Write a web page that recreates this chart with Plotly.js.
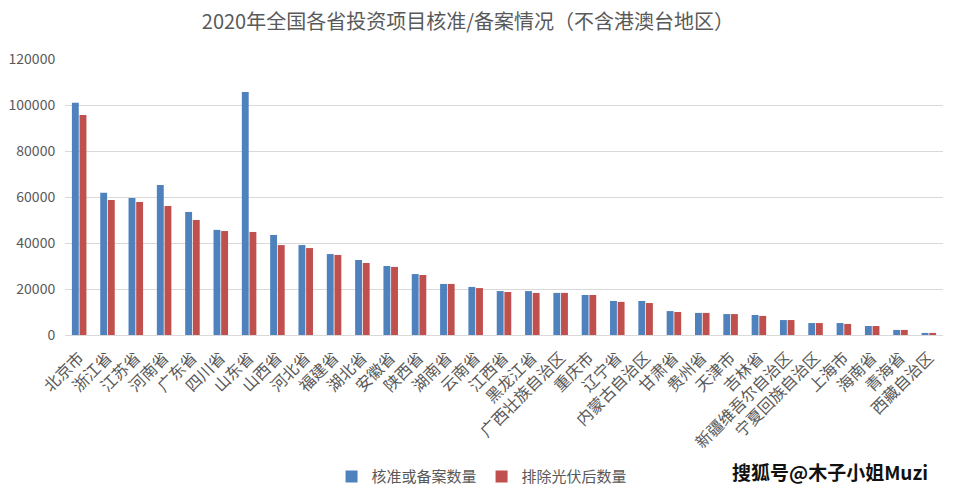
<!DOCTYPE html>
<html>
<head>
<meta charset="utf-8">
<script src="https://cdn.plot.ly/plotly-3.0.1.min.js"></script>
<style>
  body { margin: 0; background: #fff; }
  #chart { width: 955px; height: 495px; }
</style>
</head>
<body>
<div id="chart"></div>
<script>
var provinces = ['北京市', '浙江省', '江苏省', '河南省', '广东省', '四川省', '山东省', '山西省', '河北省',
	'福建省', '湖北省', '安徽省', '陕西省', '湖南省', '云南省', '江西省', '黑龙江省', '广西壮族自治区',
	'重庆市', '辽宁省', '内蒙古自治区', '甘肃省', '贵州省', '天津市', '吉林省', '新疆维吾尔自治区',
	'宁夏回族自治区', '上海市', '海南省', '青海省', '西藏自治区'];

var approved = [101000, 61800, 59600, 65200, 53500, 45700, 105700, 43500, 39100,
	35200, 32600, 30000, 26500, 22200, 20900, 19100, 19100, 18300,
	17400, 14800, 14800, 10400, 9600, 9100, 8700, 6500,
	5200, 5200, 3900, 2200, 900];

var excl_pv = [95700, 58700, 57800, 56100, 50000, 45200, 44800, 39100, 37800,
	34800, 31300, 29600, 26100, 22200, 20400, 18700, 18300, 18300,
	17400, 14400, 13900, 10000, 9600, 9100, 8300, 6500,
	5200, 4800, 3900, 2200, 900];

var approved_trace = {
	type: 'bar',
	x: provinces,
	y: approved,
	name: '核准或备案数量',
	marker: {color: '#4f81bd'}
};

var pv_trace = {
	type: 'bar',
	x: provinces,
	y: excl_pv,
	name: '排除光伏后数量',
	marker: {color: '#c0504d'}
};

var layout = {
	width: 955,
	height: 495,
	font: {family: '"Noto Sans CJK SC", "Liberation Sans", sans-serif', color: '#595959'},
	title: {
		text: '2020年全国各省投资项目核准/备案情况（不含港澳台地区）',
		font: {size: 20, color: '#595959'},
		x: 0.49, xanchor: 'center', y: 0.97
	},
	barmode: 'group',
	bargap: 0.46,
	bargroupgap: 0.1,
	showlegend: true,
	legend: {
		orientation: 'h',
		x: 0.475, xanchor: 'center',
		yref: 'container',
		y: 0.07, yanchor: 'top',
		font: {size: 15, color: '#595959'},
		itemwidth: 30,
		tracegroupgap: 0
	},
	xaxis: {
		tickangle: -45,
		tickfont: {size: 16, color: '#595959'},
		showline: true,
		linecolor: '#d9d9d9',
		ticks: '',
		ticklabelstandoff: 6,
		automargin: false
	},
	yaxis: {
		range: [0, 120000],
		dtick: 20000,
		tickformat: 'd',
		gridcolor: '#d9d9d9',
		zeroline: false,
		tickfont: {size: 14, color: '#595959'},
		ticklen: 6,
		ticks: 'outside',
		tickcolor: 'rgba(0,0,0,0)',
		automargin: false
	},
	margin: {
		t: 59, //top margin
		l: 65, //left margin
		r: 12, //right margin
		b: 160 //bottom margin
	},
	annotations: [{
		text: '<b>搜狐号@木子小姐Muzi</b>',
		xref: 'paper', yref: 'paper',
		x: 0.985, y: -0.44, xanchor: 'right', yanchor: 'top',
		showarrow: false,
		font: {size: 19, color: '#111111'}
	}]
};

Plotly.newPlot('chart', [approved_trace, pv_trace], layout, {displayModeBar: false});
</script>
</body>
</html>
